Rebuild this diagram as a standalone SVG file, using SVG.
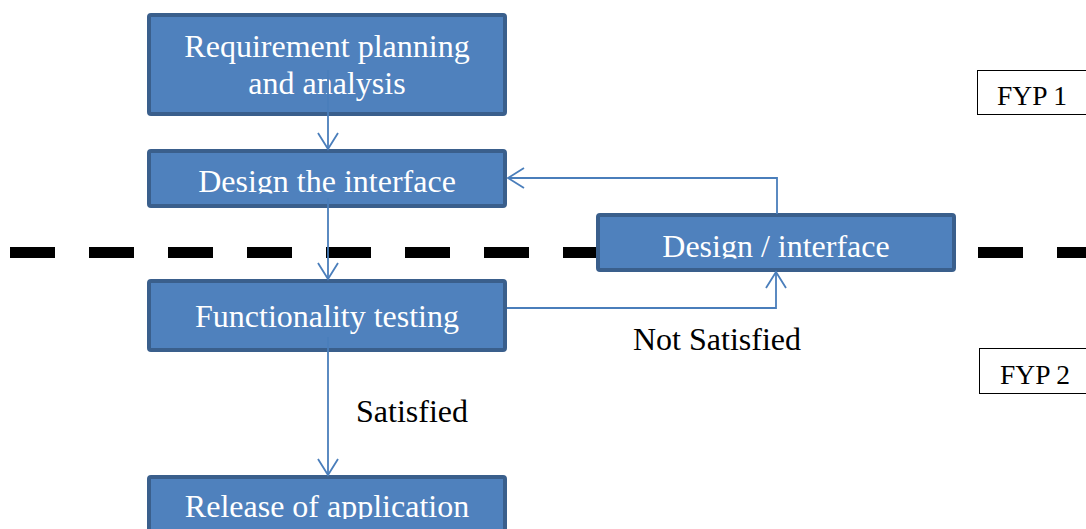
<svg xmlns="http://www.w3.org/2000/svg" width="1086" height="529" viewBox="0 0 1086 529">
  <style>
    .box { fill: #4F81BD; stroke: #3A5F8C; stroke-width: 4; }
    .btxt { font-family: "Liberation Serif", "Times New Roman", serif; font-size: 32px; fill: #FFFFFF; text-anchor: middle; }
    .lbl { font-family: "Liberation Serif", "Times New Roman", serif; font-size: 32px; fill: #000000; }
    .tag { fill: #FFFFFF; stroke: #000000; stroke-width: 1; }
    .tagtxt { font-family: "Liberation Serif", "Times New Roman", serif; font-size: 27.5px; fill: #000000; }
    .conn { fill: none; stroke: #4A7EBB; stroke-width: 1.8; }
    .dash { stroke: #000000; stroke-width: 11; stroke-dasharray: 45 34; fill: none; }
  </style>
  <defs>
    <marker id="arrow" markerUnits="userSpaceOnUse" markerWidth="24" markerHeight="24" refX="17" refY="11" orient="auto">
      <path d="M1,1 L17,11 L1,21" fill="none" stroke="#4A7EBB" stroke-width="1.8"/>
    </marker>
    <clipPath id="clip-design"><rect x="150" y="150" width="354" height="43.5"/></clipPath>
    <clipPath id="clip-release"><rect x="150" y="476" width="354" height="43"/></clipPath>
    <clipPath id="clip-redesign"><rect x="599" y="214" width="354" height="44.5"/></clipPath>
  </defs>

  <rect width="1086" height="529" fill="#FFFFFF"/>

  <!-- phase divider -->
  <g id="divider">
    <line class="dash" x1="10" y1="252.5" x2="597" y2="252.5"/>
    <line class="dash" x1="978" y1="252.5" x2="1100" y2="252.5"/>
  </g>

  <g id="node-requirements">
    <rect class="box" x="149" y="15" width="356" height="99" rx="2"/>
    <text class="btxt" x="327" y="57">Requirement planning</text>
    <text class="btxt" x="327" y="94">and analysis</text>
  </g>

  <g id="node-design">
    <rect class="box" x="149" y="151" width="356" height="55" rx="2"/>
    <text class="btxt" x="327" y="192" clip-path="url(#clip-design)">Design the interface</text>
  </g>

  <g id="node-testing">
    <rect class="box" x="149" y="281" width="356" height="69" rx="2"/>
    <text class="btxt" x="327" y="327">Functionality testing</text>
  </g>

  <g id="node-release">
    <rect class="box" x="149" y="477" width="356" height="70" rx="2"/>
    <text class="btxt" x="327" y="517" clip-path="url(#clip-release)">Release of application</text>
  </g>

  <g id="node-redesign">
    <rect class="box" x="598" y="215" width="356" height="55" rx="2"/>
    <text class="btxt" x="776" y="257" clip-path="url(#clip-redesign)">Design / interface</text>
  </g>

  <g id="tag-fyp1">
    <rect class="tag" x="977.5" y="70.5" width="120" height="44"/>
    <text class="tagtxt" x="997" y="105">FYP 1</text>
  </g>

  <g id="tag-fyp2">
    <rect class="tag" x="979.5" y="348.5" width="120" height="45"/>
    <text class="tagtxt" x="1000" y="384">FYP 2</text>
  </g>

  <g id="connectors">
    <path class="conn" d="M328,70 L328,149" marker-end="url(#arrow)"/>
    <path class="conn" d="M328,198 L328,279" marker-end="url(#arrow)"/>
    <path class="conn" d="M328,337 L328,475" marker-end="url(#arrow)"/>
    <path class="conn" d="M507,308 L776,308 L776,272" marker-end="url(#arrow)"/>
    <path class="conn" d="M777,214 L777,178 L508,178" marker-end="url(#arrow)"/>
  </g>

  <g id="labels">
    <text class="lbl" x="633" y="350">Not Satisfied</text>
    <text class="lbl" x="356" y="422">Satisfied</text>
  </g>
</svg>
